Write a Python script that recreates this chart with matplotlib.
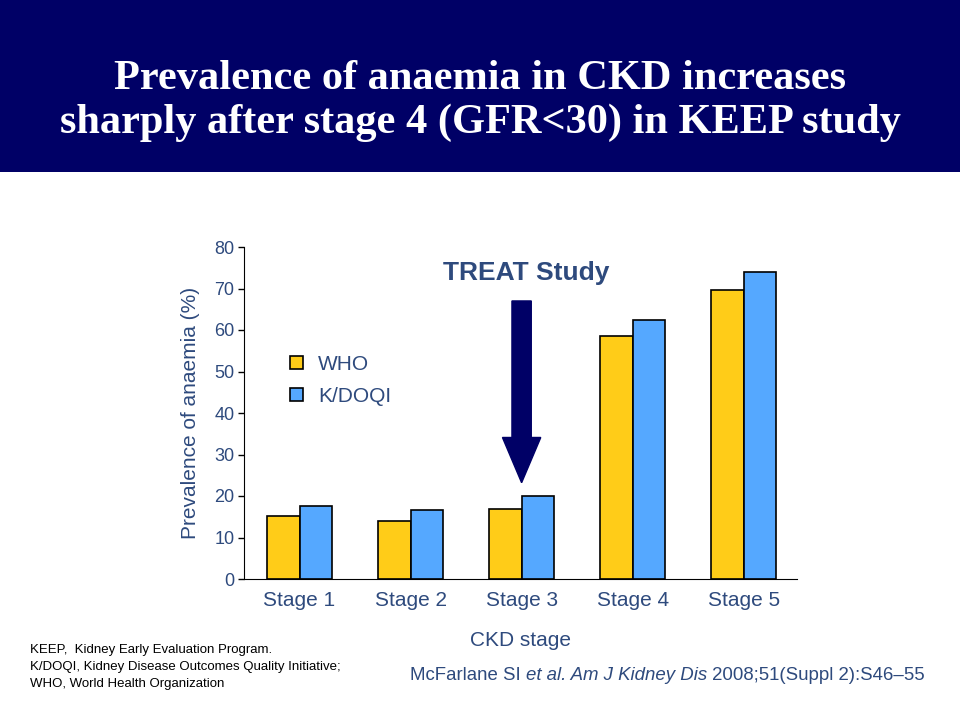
import numpy as np
import matplotlib
matplotlib.use("Agg")
import matplotlib.pyplot as plt
from matplotlib.patches import Rectangle

# data
stages = ["Stage 1", "Stage 2", "Stage 3", "Stage 4", "Stage 5"]
who = [15.2, 14.0, 16.9, 58.6, 69.6]
kdoqi = [17.6, 16.6, 19.9, 62.5, 73.9]
series_names = ["WHO", "K/DOQI"]
yticks = [0, 10, 20, 30, 40, 50, 60, 70, 80]
treat_stage = 2
treat_from, treat_to = 67.0, 23.2

navy = "#000066"
txtblue = "#2E4A7D"
yellow = "#FFCC18"
blue = "#55A8FF"

plt.rcParams['font.family'] = ['Liberation Sans', 'DejaVu Sans']

fig = plt.figure(figsize=(9.6, 7.2), dpi=100)
fig.patches.append(Rectangle((0, 1 - 172 / 720), 1, 172 / 720, transform=fig.transFigure,
                             facecolor=navy, edgecolor='none', zorder=0))
fig.text(0.5, 1 - 79 / 720, "Prevalence of anaemia in CKD increases", family=['Liberation Serif'],
         weight='bold', fontsize=30.5, color='white', ha='center', va='center')
fig.text(0.5, 1 - 123 / 720, "sharply after stage 4 (GFR<30) in KEEP study", family=['Liberation Serif'],
         weight='bold', fontsize=30.5, color='white', ha='center', va='center')

ax = fig.add_axes([244 / 960, 1 - 579 / 720, 553 / 960, 332 / 720])
x = np.arange(len(stages))
w = 0.29
ax.bar(x - w / 2, who, w, color=yellow, edgecolor='black', linewidth=1.2, label=series_names[0], zorder=2)
ax.bar(x + w / 2, kdoqi, w, color=blue, edgecolor='black', linewidth=1.2, label=series_names[1], zorder=2)

ax.set_xlim(-0.5, 4.48)
ax.set_ylim(0, 80)
ax.set_yticks(yticks)
ax.set_xticks(x)
ax.set_xticklabels(stages)
ax.spines['top'].set_visible(False)
ax.spines['right'].set_visible(False)
ax.tick_params(axis='y', length=4, width=1, pad=3, labelsize=13, labelcolor=txtblue)
ax.tick_params(axis='x', length=0, pad=9, labelsize=15, labelcolor=txtblue)
ax.set_ylabel("Prevalence of anaemia (%)", fontsize=15, color=txtblue, labelpad=10)
ax.set_xlabel("CKD stage", fontsize=15, color=txtblue, labelpad=15)

ax.arrow(treat_stage, treat_from, 0, treat_to - treat_from, width=0.174, head_width=0.345,
         head_length=10.9, length_includes_head=True, facecolor=navy, edgecolor=navy, zorder=3)
ax.text(treat_stage + 0.04, 73.8, "TREAT Study", fontsize=19, weight='bold', color=txtblue,
        ha='center', va='center')

fig.legend(loc='upper left', bbox_to_anchor=(290 / 960, 1 - 355 / 720), frameon=False,
           fontsize=15, labelcolor=txtblue, handlelength=0.63, handleheight=0.63,
           handletextpad=0.72, labelspacing=0.62, borderpad=0, borderaxespad=0)

foot = ["KEEP,  Kidney Early Evaluation Program.",
        "K/DOQI, Kidney Disease Outcomes Quality Initiative;",
        "WHO, World Health Organization"]
for i, line in enumerate(foot):
    fig.text(30 / 960, 1 - (650 + 17 * i) / 720, line, fontsize=9.5, color='black', va='center')

# citation with italic parts
cite = [("McFarlane SI ", 'normal'), ("et al. Am J Kidney Dis", 'italic'),
        (" 2008;51(Suppl 2):S46\u201355", 'normal')]
renderer = fig.canvas.get_renderer()
xpos = 410 / 960
for part, style in cite:
    t = fig.text(xpos, 1 - 676 / 720, part, fontsize=13.4, style=style, color=txtblue, va='center')
    bb = t.get_window_extent(renderer)
    xpos += bb.width / fig.bbox.width

fig.savefig("out.png", dpi=100)
